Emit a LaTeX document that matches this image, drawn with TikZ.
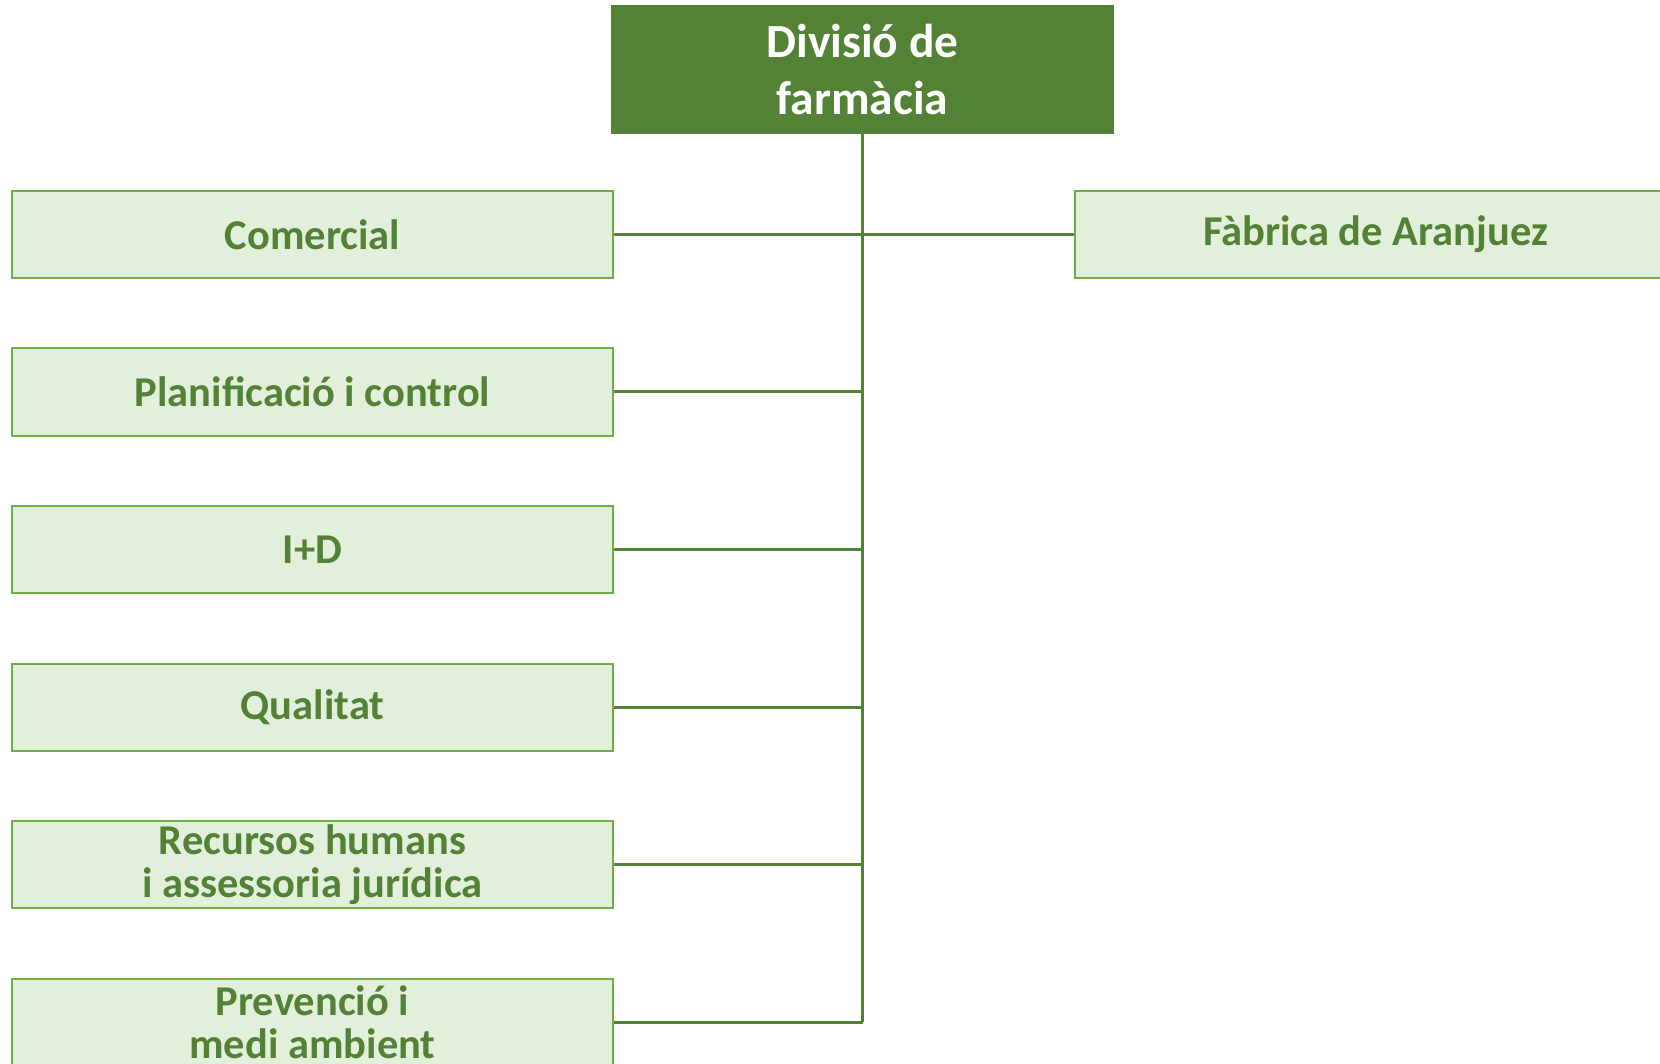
\documentclass[tikz,border=0pt]{standalone}
\usepackage{fontspec}
\setmainfont{Carlito}
\definecolor{dkgreen}{HTML}{538135}
\definecolor{ltgreen}{HTML}{E2EFDA}
\definecolor{bdgreen}{HTML}{70AD47}
\tikzset{
  topbox/.style={fill=dkgreen, draw=none, minimum width=503pt, minimum height=129pt,
    inner sep=0pt, align=center, text=white,
    font=\fontsize{47.5}{57}\selectfont\bfseries},
  unitbox/.style={fill=ltgreen, draw=bdgreen, line width=2pt, minimum width=601pt,
    minimum height=87pt, inner sep=0pt, align=center, text=dkgreen,
    font=\fontsize{42.5}{43}\selectfont\bfseries},
  link/.style={draw=dkgreen, line width=3pt}
}
\begin{document}
\begin{tikzpicture}[x=1pt,y=-1pt]
\clip (0,0) rectangle (1660,1064);
\fill[white] (0,0) rectangle (1660,1064);
\node[topbox] (top) at (862.5,69.5) {Divisió de\\farmàcia};
\node[unitbox] (com) at (312.5,234.5) {Comercial};
\node[unitbox] (pla) at (312.5,392) {Planificació i control};
\node[unitbox] (ird) at (312.5,549.5) {I+D};
\node[unitbox] (qua) at (312.5,707) {Qualitat};
\node[unitbox] (rec) at (312.5,864.5) {Recursos humans\\i assessoria jurídica};
\node[unitbox] (pre) at (312.5,1022) {Prevenció i\\medi ambient};
\node[unitbox] (fab) at (1375.5,234.5) {Fàbrica de Aranjuez};
\draw[link] (top.south) -- (top.south |- pre.east);
\foreach \n in {com,pla,ird,qua,rec,pre}
  \draw[link] (\n.east) -- (\n.east -| top.south);
\draw[link] (fab.west) -- (fab.west -| top.south);
\end{tikzpicture}
\end{document}
